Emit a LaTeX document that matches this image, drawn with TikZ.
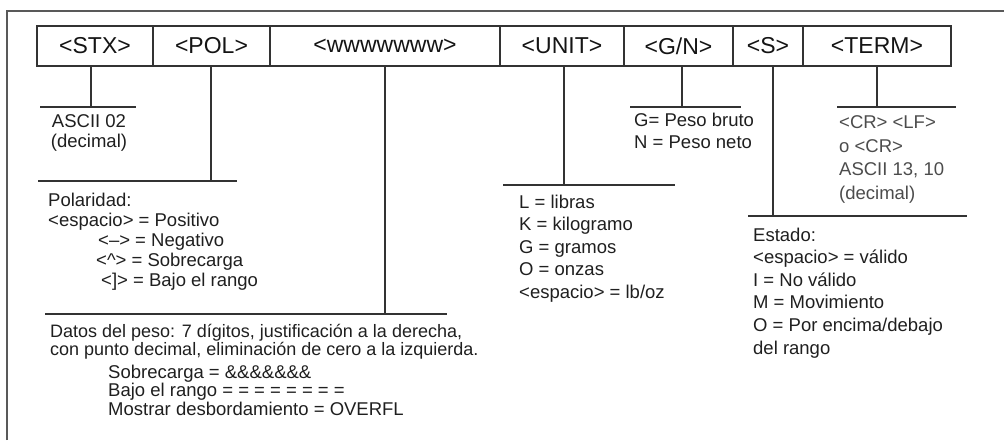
\documentclass[tikz,border=0pt]{standalone}
\usepackage{fontspec}
\setmainfont{Liberation Sans}
\usetikzlibrary{positioning}

\begin{document}
\begin{tikzpicture}[
    x=1pt, y=-1pt,
    node distance = 0pt,
    hdr/.style={draw=black!80, line width=1.2pt, outer sep=0pt, inner sep=0pt, minimum height=40pt, font=\fontsize{23}{24}\selectfont, text=black!92},
    rule/.style={draw=black!80, line width=1.1pt},
    frame/.style={draw=black!65, line width=2.2pt},
    note/.style={inner sep=0pt, anchor=north west, align=left, text=black!88, font=\fontsize{18.5}{20}\selectfont},
]
\useasboundingbox (0,0) rectangle (1004,440);
\draw[frame] (7,440) -- (7,11) -- (1004,11);

% header fields
\node[hdr, minimum width=116pt, anchor=north west] (stx) at (37,26) {<STX>};
\node[hdr, minimum width=117pt, right=of stx] (pol) {<POL>};
\node[hdr, minimum width=230pt, right=of pol] (www) {<wwwwwww>};
\node[hdr, minimum width=124pt, right=of www] (unit) {<UNIT>};
\node[hdr, minimum width=109pt, right=of unit] (gn) {<G/N>};
\node[hdr, minimum width=70pt, right=of gn] (stat) {<S>};
\node[hdr, minimum width=148pt, right=of stat] (term) {<TERM>};

% rules under each field
\coordinate (stxa) at (40,107);  \coordinate (stxb) at (136,107);  \coordinate (stxtap) at (91,107);
\coordinate (pola) at (38,181);  \coordinate (polb) at (237,181);  \coordinate (poltap) at (211,181);
\coordinate (wwwa) at (45,314);  \coordinate (wwwb) at (447,314);  \coordinate (wwwtap) at (385,314);
\coordinate (unita) at (503,185); \coordinate (unitb) at (675,185); \coordinate (unittap) at (564,185);
\coordinate (gna) at (630,107);  \coordinate (gnb) at (741,107);   \coordinate (gntap) at (682,107);
\coordinate (stata) at (748,216); \coordinate (statb) at (967,216); \coordinate (stattap) at (773,216);
\coordinate (terma) at (837,107); \coordinate (termb) at (956,107); \coordinate (termtap) at (877,107);

\foreach \f in {stx, pol, www, unit, gn, stat, term} {
    \draw[rule] (\f a) -- (\f b);
    \draw[rule] (\f tap |- \f.south) -- (\f tap);
}

% descriptions
\node[note, anchor=north, align=center] (stxtxt) at (89,114.5) {ASCII 02\\(decimal)};
\node[note] (poltxt) at (48,192.5) {Polaridad:\\
<espacio> = Positivo\\
\hspace*{50pt}<–> = Negativo\\
\hspace*{48pt}<\textasciicircum> = Sobrecarga\\
\hspace*{53pt}<]> = Bajo el rango};
\node[note, font=\fontsize{18}{18}\selectfont] (wwwtxt) at (50,324) {Datos del peso: 7 dígitos, justificación a la derecha,\\
con punto decimal, eliminación de cero a la izquierda.};
\node[note, font=\fontsize{18.5}{13.5}\selectfont] (wwwcodes) at (108,365) {Sobrecarga = \&\&\&\&\&\&\&\\
Bajo el rango = = = = = = = =\\
Mostrar desbordamiento = OVERFL};
\node[note, font=\fontsize{18.5}{22.5}\selectfont] (unittxt) at (519,194.5) {L = libras\\
K = kilogramo\\
G = gramos\\
O = onzas\\
<espacio> = lb/oz};
\node[note, font=\fontsize{18.5}{22}\selectfont] (gntxt) at (634,112.5) {G= Peso bruto\\
N = Peso neto};
\node[note, text=black!70, font=\fontsize{18.5}{23.5}\selectfont] (termtxt) at (839,115.5) {<CR> <LF>\\
o <CR>\\
ASCII 13, 10\\
(decimal)};
\node[note, font=\fontsize{18.5}{22.6}\selectfont] (stattxt) at (753,227.5) {Estado:\\
<espacio> = válido\\
I = No válido\\
M = Movimiento\\
O = Por encima/debajo\\
del rango};
\end{tikzpicture}
\end{document}
